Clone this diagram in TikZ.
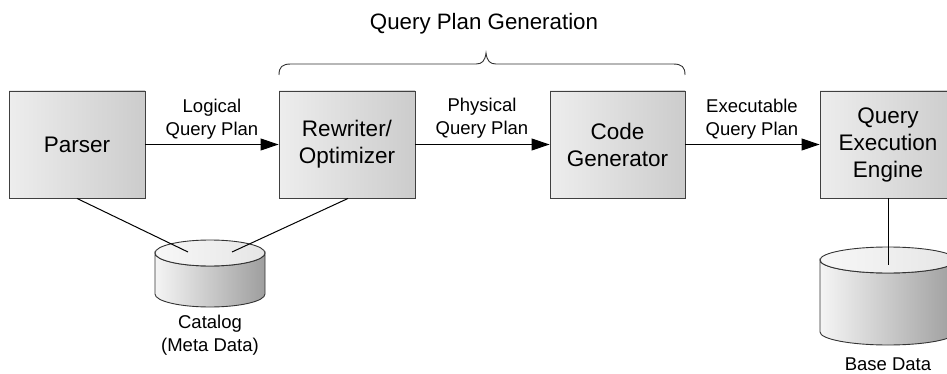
\documentclass[tikz,border=0pt]{standalone}
\usepackage{fontspec}
\setmainfont{Liberation Sans}
\usetikzlibrary{arrows.meta}
\tikzset{
  procbox/.style={draw=black!75, line width=0.9pt, left color=black!7, right color=black!20,
    minimum width=136pt, minimum height=107pt, inner sep=0pt, align=center,
    font=\fontsize{22.5pt}{27pt}\selectfont},
  flowlabel/.style={align=center, font=\fontsize{18.5pt}{23pt}\selectfont, inner sep=0pt},
  flow/.style={line width=1pt, -{Triangle[length=18pt,width=12pt]}},
  link/.style={line width=1pt},
  cylbody/.style={draw=black!80, line width=0.9pt, left color=black!4, right color=black!38},
  cyltop/.style={draw=black!80, line width=0.9pt, left color=black!3, right color=black!10},
}
\newcommand{\dbcyl}[5]{% name, cx, top-center y, bottom-center y, rx
  \path[cylbody] (#2-#5,#3) -- (#2-#5,#4) arc[start angle=180,end angle=360,x radius=#5pt,y radius=13pt]
     -- (#2+#5,#3) arc[start angle=0,end angle=-180,x radius=#5pt,y radius=13pt] -- cycle;
  \path[cyltop] (#2,#3) ellipse[x radius=#5pt,y radius=13pt];
  \coordinate (#1) at (#2,#3);
}
\begin{document}
\begin{tikzpicture}[x=1pt,y=1pt]
\useasboundingbox (0,0) rectangle (947,-374);

\node[procbox] (parser) at (77,-144.5) {Parser};
\node[procbox] (rewriter) at (347,-144.5) {Rewriter/\\Optimizer};
\node[procbox, minimum width=135pt] (codegen) at (617.5,-144.5) {Code\\Generator};
\node[procbox] (qee) at (888,-144.5) {Query\\Execution\\Engine};

\draw[flow] (parser.east) -- (rewriter.west);
\draw[flow] (rewriter.east) -- (codegen.west);
\draw[flow] (codegen.east) -- (qee.west);

\node[flowlabel] (l1) at (212,-119) {Logical\\Query Plan};
\node[flowlabel] (l2) at (482,-118) {Physical\\Query Plan};
\node[flowlabel] (l3) at (752,-119) {Executable\\Query Plan};

\node[font=\fontsize{22.3pt}{27pt}\selectfont, inner sep=0pt] (title) at (484,-24) {Query Plan Generation};
\draw[line width=0.9pt, black!80] (279,-75) .. controls (279,-67) and (282,-64) .. (291,-64) -- (476,-64)
  .. controls (482,-64) and (485,-61) .. (486,-53)
  .. controls (487,-61) and (490,-64) .. (496,-64) -- (673,-64)
  .. controls (682,-64) and (685,-67) .. (685,-75);

\dbcyl{catalog}{210}{-253}{-294}{55}
\dbcyl{basedata}{888}{-260}{-332}{68}

\coordinate (catL) at (188,-252);
\coordinate (catR) at (232,-252);
\coordinate (bdT) at (888,-265);
\draw[link] (parser.south) -- (catL);
\draw[link] (rewriter.south) ++(1,0) coordinate (rwS) -- (catR);
\draw[link] (qee.south) -- (bdT);

\node[flowlabel] (catlabel) at (210,-335) {Catalog\\(Meta Data)};
\node[flowlabel, anchor=base] (bdlabel) at (888,-370) {Base Data};
\end{tikzpicture}
\end{document}
